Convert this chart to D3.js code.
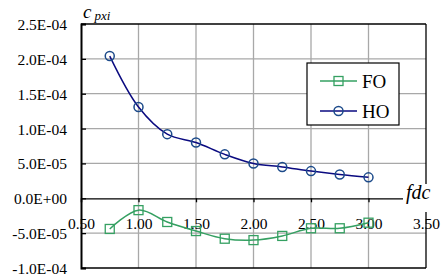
<!DOCTYPE html>
<html>
<head>
<meta charset="utf-8">
<script src="https://cdn.jsdelivr.net/npm/d3@7"></script>
<style>
  body { margin: 0; background: #fff; }
</style>
</head>
<body>
<div id="chart"></div>
<script>
// data
const fdc = [0.75, 1.0, 1.25, 1.5, 1.75, 2.0, 2.25, 2.5, 2.75, 3.0];
const hoValues = [2.04e-4, 1.31e-4, 0.92e-4, 0.80e-4, 0.63e-4, 0.50e-4, 0.45e-4, 0.39e-4, 0.34e-4, 0.30e-4];
const foValues = [-4.4e-5, -1.7e-5, -3.4e-5, -4.7e-5, -5.8e-5, -6.0e-5, -5.4e-5, -4.3e-5, -4.3e-5, -3.5e-5];
const xTicks = [0.5, 1.0, 1.5, 2.0, 2.5, 3.0, 3.5];
const yTicks = [-1e-4, -5e-5, 0, 5e-5, 1e-4, 1.5e-4, 2e-4, 2.5e-4];
const seriesNames = ['FO', 'HO'];

const width = 441, height = 280;
const margin = { top: 24, right: 15, bottom: 12, left: 81 };
const FONT = "'Liberation Serif'";

const svg = d3.select('#chart').append('svg')
  .attr('width', width)
  .attr('height', height)
  .style('display', 'block');

const x = d3.scaleLinear().domain([0.5, 3.5]).range([margin.left, width - margin.right]);
const y = d3.scaleLinear().domain([-1e-4, 2.5e-4]).range([height - margin.bottom, margin.top]);

const sciFmt = v => {
  const [m, e] = v.toExponential(1).split('e');
  const sign = e[0] === '-' ? '-' : '+';
  const digits = e.replace(/[+-]/, '').padStart(2, '0');
  return `${m}E${sign}${digits}`;
};

// grid
const grid = svg.append('g').attr('stroke', '#a8a8a8').attr('stroke-width', 1.3);
grid.selectAll('line.h').data(yTicks.filter(d => d !== 0 && d !== 2.5e-4 && d !== -1e-4)).enter()
  .append('line')
    .attr('x1', x(0.5)).attr('x2', x(3.5))
    .attr('y1', d => y(d)).attr('y2', d => y(d));
grid.selectAll('line.v').data(xTicks.slice(1, -1)).enter()
  .append('line')
    .attr('x1', d => x(d)).attr('x2', d => x(d))
    .attr('y1', y(2.5e-4)).attr('y2', y(-1e-4));

// frame
const frame = svg.append('g').attr('stroke', '#000').attr('fill', 'none').attr('stroke-width', 1.3);
frame.append('line')
  .attr('x1', x(0.5)).attr('x2', x(3.5))
  .attr('y1', y(2.5e-4)).attr('y2', y(2.5e-4));
frame.append('line')
  .attr('x1', x(0.5)).attr('x2', x(3.5))
  .attr('y1', y(-1e-4)).attr('y2', y(-1e-4));
frame.append('line')
  .attr('x1', x(3.5)).attr('x2', x(3.5))
  .attr('y1', y(2.5e-4)).attr('y2', y(-1e-4));

// y axis
const yAxis = svg.append('g')
  .attr('transform', `translate(${x(0.5)},0)`)
  .call(d3.axisLeft(y).tickValues(yTicks).tickFormat(sciFmt).tickSize(-5).tickPadding(14));
yAxis.select('.domain').attr('stroke-width', 2);
yAxis.selectAll('.tick line').attr('stroke-width', 1.3);
yAxis.attr('font-family', FONT).attr('font-size', 15.5);
yAxis.selectAll('text')
  .attr('fill', '#000')
  .attr('dy', '0.35em');

// x axis on zero line
const xAxis = svg.append('g')
  .attr('transform', `translate(0,${y(0)})`)
  .call(d3.axisBottom(x).tickValues(xTicks).tickFormat(d3.format('.2f')).tickSize(4).tickPadding(16));
xAxis.select('.domain').attr('stroke-width', 1.3);
xAxis.selectAll('.tick line').attr('stroke-width', 1.3);
xAxis.attr('font-family', FONT).attr('font-size', 15.5);
xAxis.selectAll('text').attr('fill', '#000');

// fdc label over the frame
svg.append('rect')
  .attr('x', 403).attr('y', 184).attr('width', 38).attr('height', 28)
  .attr('fill', '#fff');
svg.append('text')
  .attr('x', 406).attr('y', y(0) + 1)
  .attr('font-family', FONT)
  .attr('font-size', 20).attr('font-style', 'italic')
  .text('fdc');

// y label
const yLbl = svg.append('text')
  .attr('x', 83).attr('y', 18)
  .attr('font-family', FONT)
  .attr('font-style', 'italic');
yLbl.append('tspan').attr('font-size', 19).text('c');
yLbl.append('tspan').attr('font-size', 13).attr('dx', 3).attr('dy', 2).text('pxi');

// series
const line = d3.line()
  .x(d => x(d[0]))
  .y(d => y(d[1]))
  .curve(d3.curveCatmullRom.alpha(0.5));

const foColor = '#35a062', hoLine = '#0a0a80', hoMarker = '#1c4a8a';
const foData = d3.zip(fdc, foValues);
const hoData = d3.zip(fdc, hoValues);

svg.append('path')
  .attr('d', line(foData))
  .attr('fill', 'none').attr('stroke', foColor).attr('stroke-width', 1.5);
svg.append('path')
  .attr('d', line(hoData))
  .attr('fill', 'none').attr('stroke', hoLine).attr('stroke-width', 1.5);

svg.selectAll('rect.fo').data(foData).enter()
  .append('rect')
    .attr('class', 'fo')
    .attr('x', d => x(d[0]) - 4.5).attr('y', d => y(d[1]) - 4.5)
    .attr('width', 9).attr('height', 9)
    .attr('fill', 'none').attr('stroke', foColor).attr('stroke-width', 1.3);
svg.selectAll('circle.ho').data(hoData).enter()
  .append('circle')
    .attr('class', 'ho')
    .attr('cx', d => x(d[0])).attr('cy', d => y(d[1]))
    .attr('r', 4.5)
    .attr('fill', 'none').attr('stroke', hoMarker).attr('stroke-width', 1.5);

// legend
const legend = svg.append('g').attr('transform', 'translate(307,63)');
legend.append('rect')
  .attr('width', 92).attr('height', 62)
  .attr('fill', '#fff').attr('stroke', '#000').attr('stroke-width', 1.2);
const rows = legend.selectAll('g.row').data(seriesNames).enter()
  .append('g')
    .attr('class', 'row')
    .attr('transform', (d, i) => `translate(0,${18 + i * 30})`);
rows.append('line')
  .attr('x1', 13).attr('x2', 50)
  .attr('stroke', d => d === 'FO' ? foColor : hoLine)
  .attr('stroke-width', 1.5);
rows.filter(d => d === 'FO').append('rect')
  .attr('x', 27).attr('y', -4.5).attr('width', 9).attr('height', 9)
  .attr('fill', 'none').attr('stroke', foColor).attr('stroke-width', 1.3);
rows.filter(d => d === 'HO').append('circle')
  .attr('cx', 31.5).attr('r', 4.5)
  .attr('fill', 'none').attr('stroke', hoMarker).attr('stroke-width', 1.5);
rows.append('text')
  .attr('x', 55).attr('dy', '0.35em')
  .attr('font-family', FONT)
  .attr('font-size', 19)
  .text(d => d);
</script>
</body>
</html>
